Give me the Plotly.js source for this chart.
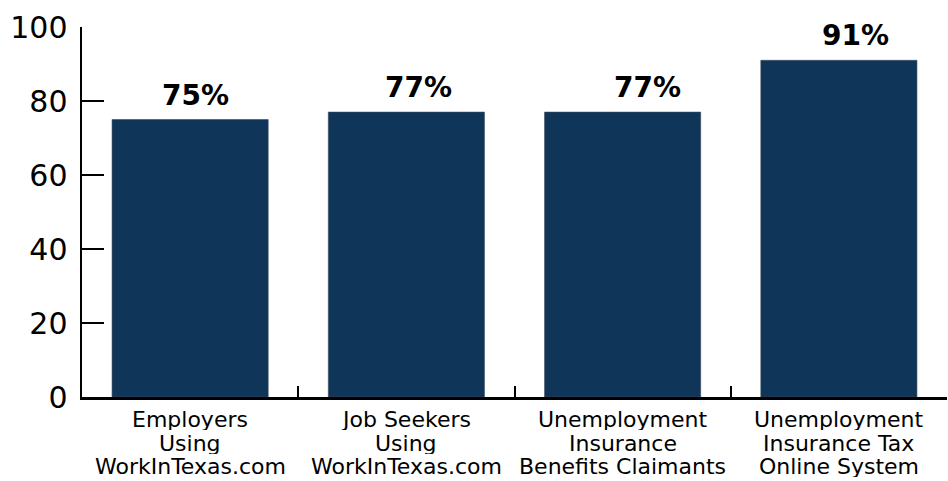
<!DOCTYPE html>
<html>
<head>
<meta charset="utf-8">
<script src="https://cdn.plot.ly/plotly-3.0.1.min.js"></script>
<style>html,body{margin:0;padding:0;background:#fff;}#chart{width:948px;height:481px;}</style>
</head>
<body>
<div id="chart"></div>
<script>
const categories = ["Employers Using WorkInTexas.com", "Job Seekers Using WorkInTexas.com", "Unemployment Insurance Benefits Claimants", "Unemployment Insurance Tax Online System"];
const labelLines = [
  ["Employers", "Using", "WorkInTexas.com"],
  ["Job Seekers", "Using", "WorkInTexas.com"],
  ["Unemployment", "Insurance", "Benefits Claimants"],
  ["Unemployment", "Insurance Tax", "Online System"]
];
const values = [75, 77, 77, 91];
const valueLabels = ["75%", "77%", "77%", "91%"];
const yTicks = [0, 20, 40, 60, 80, 100];

// styling: horizontal nudges of the value labels as in the original artwork
const labelNudge = [5, 12, 25, 17];

const FONT = "DejaVu Sans";
const annotations = [];
labelLines.forEach((lines, i) => {
  lines.forEach((line, j) => {
    annotations.push({
      x: categories[i], xref: 'x', y: 0, yref: 'paper',
      yanchor: 'top', xanchor: 'center', valign: 'middle', showarrow: false,
      height: 22, borderpad: 0,
      text: line, font: {family: FONT, size: 22, color: '#000'},
      yshift: -10 - j * 23.5
    });
  });
});
values.forEach((v, i) => {
  annotations.push({
    x: categories[i], xref: 'x', y: v, yref: 'y',
    yanchor: 'bottom', xanchor: 'center', showarrow: false,
    text: valueLabels[i], font: {family: FONT, size: 28, color: '#000', weight: 'bold'},
    xshift: labelNudge[i], yshift: 6
  });
});

const trace = {
  type: 'bar', x: categories, y: values,
  marker: {color: '#0f3559', line: {color: '#3a4a5a', width: 0.6}},
  hoverinfo: 'none'
};

const layout = {
  width: 948, height: 481,
  margin: {l: 82, r: 1, t: 27, b: 84},
  paper_bgcolor: '#fff', plot_bgcolor: '#fff',
  bargap: 0.278, showlegend: false,
  font: {family: FONT, color: '#000'},
  xaxis: {
    type: 'category', range: [-0.5, 3.5], tickson: 'boundaries',
    ticks: 'inside', ticklen: 11, tickwidth: 2, tickcolor: '#000',
    showline: true, linewidth: 2.5, linecolor: '#000',
    showticklabels: false, showgrid: false, zeroline: false, fixedrange: true
  },
  yaxis: {
    range: [0, 100], tickvals: yTicks, ticktext: yTicks.map(String),
    ticks: 'inside', ticklen: 22, tickwidth: 2, tickcolor: '#000',
    showline: true, linewidth: 2.5, linecolor: '#000',
    tickfont: {family: FONT, size: 30, color: '#000'}, ticklabelstandoff: 6,
    showgrid: false, zeroline: false, fixedrange: true
  },
  annotations: annotations
};

Plotly.newPlot('chart', [trace], layout, {displayModeBar: false, staticPlot: true});
</script>
</body>
</html>
